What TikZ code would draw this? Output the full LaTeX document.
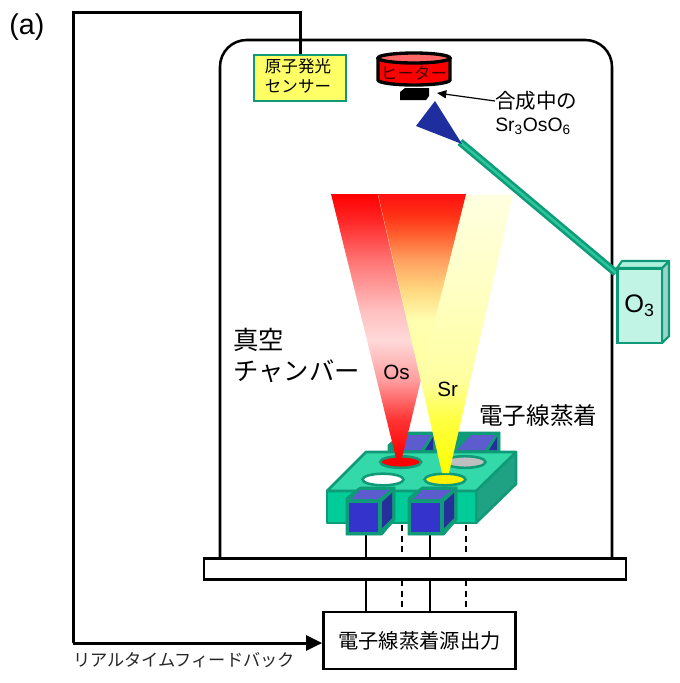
\documentclass[tikz,border=0pt]{standalone}
\usepackage{fontspec}
\setmainfont{Liberation Sans}
\newfontfamily\jp{Noto Sans CJK JP}
\usetikzlibrary{arrows.meta}
\definecolor{gborder}{HTML}{0F9A78}
\definecolor{gtop}{HTML}{33D9A9}
\definecolor{gfront}{HTML}{00CC99}
\definecolor{gside}{HTML}{1FA283}
\definecolor{bfront}{HTML}{3434CC}
\definecolor{btop}{HTML}{5C5CCF}
\definecolor{bside}{HTML}{26309A}
\definecolor{sensorfill}{HTML}{FFFF66}
\definecolor{noza}{HTML}{1E2E9E}
\definecolor{nozb}{HTML}{5F5FDC}
\pgfdeclareverticalshading{redcone}{100bp}{color(0bp)=(red);color(25bp)=(red);color(32.2bp)=(red!80!white);color(39.8bp)=(red!38!white);color(47.3bp)=(red!15!white);color(53bp)=(red!25!white);color(62.5bp)=(red!55!white);color(70bp)=(red!85!white);color(75bp)=(red);color(100bp)=(red)}
\definecolor{yp}{HTML}{FFFFE0}\definecolor{ya}{HTML}{FFFFC0}\definecolor{yb}{HTML}{FFFFA0}\definecolor{yc}{HTML}{FFFF40}\definecolor{yd}{HTML}{FFFF00}
\pgfdeclareverticalshading{yelcone}{100bp}{color(0bp)=(yd);color(25bp)=(yd);color(34.5bp)=(yc);color(41.7bp)=(yb);color(56.1bp)=(ya);color(75bp)=(yp);color(100bp)=(yp)}
\definecolor{oa}{HTML}{FF1010}\definecolor{ob}{HTML}{FF3015}\definecolor{oc}{HTML}{FF6030}\definecolor{od}{HTML}{FFA060}\definecolor{oe}{HTML}{FFD880}\definecolor{of}{HTML}{FFFFB0}
\pgfdeclareverticalshading{ovcone}{100bp}{color(0bp)=(yb);color(25bp)=(yb);color(40.8bp)=(of);color(48.9bp)=(oe);color(57.1bp)=(od);color(63.9bp)=(oc);color(69.3bp)=(ob);color(75bp)=(oa);color(100bp)=(oa)}
\tikzset{
  blk/.style={draw=black,line width=2.25pt},
  thinl/.style={draw=black,line width=1.2pt},
  thind/.style={draw=black,line width=1.2pt,dash pattern=on 4.5pt off 3.5pt},
  lbl/.style={inner sep=0pt,align=left,text=black},
  hole/.style={draw=gborder,line width=1.9pt},
  cubeframe/.style={fill=gborder,draw=gborder,line width=.5pt,line join=round},
}
\newcommand{\cube}{%
  \fill[cubeframe] (346,498)--(360,487)--(395,487)--(395,520)--(382,535)--(346,535)--cycle;
  \fill[btop] (352,499)--(360,490)--(390,490)--(378,499)--cycle;
  \fill[bfront] (349,503) rectangle (378,532);
  \fill[bside] (382,502)--(392,493)--(392,518)--(382,528)--cycle;
}
\begin{document}
\begin{tikzpicture}[x=0.75pt,y=-0.75pt]
\useasboundingbox (0,0) rectangle (680,683);
\fill[white] (0,0) rectangle (680,683);
\node[lbl,anchor=west,font=\fontsize{21.5}{24}\selectfont] (tag) at (9,27) {(a)};
% chamber
\coordinate (cbl) at (220,558);
\coordinate (cbr) at (612,558);
\draw[blk,line width=1.9pt,rounded corners=20pt] (cbl) -- (220,40) -- (612,40) -- (cbr);
% base and source box
\node[blk,line width=1.9pt,fill=white,minimum width=316.5pt,minimum height=16pt,inner sep=0pt] (base) at (415,569) {};
\node[blk,line width=1.9pt,fill=white,minimum width=144pt,minimum height=42.5pt,inner sep=0pt,font=\jp\fontsize{15.2}{18}\selectfont] (src) at (419.5,640.5) {\raisebox{-1.5pt}{電子線蒸着源出力}};
% wires
\foreach \xx/\st/\nm in {366/thinl/a,402/thind/b,430/thinl/c,466/thind/d}{
  \coordinate (t\nm) at (\xx,525);
  \coordinate (m\nm) at (\xx,558);
  \coordinate (n\nm) at (\xx,580);
  \coordinate (s\nm) at (\xx,611);
  \draw[\st] (t\nm) -- (m\nm);
  \draw[\st] (n\nm) -- (s\nm);
}
% sensor
\node[draw=gborder,line width=2.2pt,fill=sensorfill,minimum width=69pt,minimum height=34.5pt,inner sep=0pt,font=\jp\fontsize{12.4}{15.6}\selectfont] (sensor) at (300,78) {\raisebox{.7pt}{\begin{tabular}{@{}c@{}}原子発光\\[-0.4pt]センサー\end{tabular}}\kern3pt};
% feedback
\coordinate (fb1) at (300,12);
\coordinate (fb2) at (73,12);
\coordinate (fb3) at (73,643);
\draw[blk] (sensor.north) -- (fb1) -- (fb2) -- (fb3);
\draw[blk,-{Triangle[length=12pt,width=11pt]}] (fb3) -- (src.west|-fb3);
\node[lbl,anchor=west,font=\jp\fontsize{12.9}{15}\selectfont,text=black!85] (fbl) at (73,660) {リアルタイムフィードバック};
% heater
\fill[black] (400,92)--(405,88)--(429,88)--(429,96)--(426,100)--(400,100)--cycle;
\draw[black,line width=2.5pt,fill=red] (378,58) -- (378,80) arc[start angle=180,end angle=360,x radius=36,y radius=-5] -- (450,58);
\draw[black,line width=2.5pt,fill=red!60!white] (414,58) ellipse [x radius=36,y radius=5];
\node[lbl,font=\jp\fontsize{12.4}{15}\selectfont,text=black!75!red] (heater) at (414,73) {ヒーター};
% label & arrow
\node[lbl,anchor=west,font=\jp\fontsize{15.4}{18}\selectfont] (growing) at (495,101) {合成中の};
\node[lbl,anchor=west,font=\fontsize{14.5}{17}\selectfont] (sro) at (495,126) {Sr\textsubscript{3}OsO\textsubscript{6}};
\coordinate (sub) at (437,93);
\draw[black,line width=.9pt,-{Triangle[length=7pt,width=6pt]}] (growing.west) -- (sub);
% ozone pipe and box
\coordinate (nozzle) at (460,142);
\coordinate (pipeend) at (616,273);
\draw[gborder,line width=5.8pt] (nozzle) -- (pipeend);
\draw[gtop!70!gborder,line width=2pt] (nozzle) -- (pipeend);
\shade[top color=noza,middle color=nozb,bottom color=noza] (435,101)--(416,126)--(462,144)--cycle;
\draw[gborder,line width=1.6pt,fill=gside!45!white,line join=round] (662,268)--(669,261)--(669,336)--(662,343)--cycle;
\draw[gborder,line width=1.6pt,fill=gtop!40!white,line join=round] (617,268)--(622,261)--(669,261)--(662,268)--cycle;
\node[draw=gborder,line width=2pt,fill=gtop!30!white,minimum width=33.5pt,minimum height=56pt,inner sep=0pt,font=\fontsize{19}{22}\selectfont] (ozone) at (639.5,305.5) {O\textsubscript{3}};
% back cubes
\fill[cubeframe] (388,452)--(388,445)--(403,432)--(500,432)--(500,452)--cycle;
\foreach \dx in {0,64}{
  \fill[btop] (393+\dx,450)--(407+\dx,435)--(431+\dx,435)--(421+\dx,450)--cycle;
  \fill[bside] (425+\dx,450)--(433+\dx,437)--(433+\dx,450)--cycle;
}
% crucible
\draw[gborder,line width=1.9pt,line join=round,fill=gside] (476,491)--(516,452)--(516,484)--(476,523)--cycle;
\draw[gborder,line width=1.9pt,line join=round,fill=gfront] (327,491) rectangle (476,523);
\draw[gborder,line width=1.9pt,line join=round,fill=gtop] (327,491)--(366,452)--(516,452)--(476,491)--cycle;
\draw[hole,fill=red] (400.7,462) ellipse [x radius=20.5,y radius=5.8];
\draw[hole,fill=black!25] (465,462) ellipse [x radius=20.5,y radius=5.8];
\draw[hole,fill=white] (383,479.5) ellipse [x radius=20.5,y radius=5.8];
\draw[hole,fill=yellow] (445,479.5) ellipse [x radius=20.5,y radius=5.8];
% front cubes
\cube
\begin{scope}[xshift=46.5pt]\cube\end{scope}
% plumes
\shade[shading=redcone] (331,194)--(466,194)--(402,458)--(396,458)--cycle;
\shade[shading=yelcone] (378,195)--(513,195)--(449,473)--(442,473)--cycle;
\shade[shading=ovcone] (378,194)--(466,194)--(420.5,378)--cycle;
% labels
\node[lbl,anchor=west,font=\fontsize{15.5}{18}\selectfont] (os) at (383,372) {Os};
\node[lbl,anchor=west,font=\fontsize{15.5}{18}\selectfont] (sr) at (437,389) {Sr};
\node[lbl,anchor=west,font=\jp\fontsize{17.7}{21}\selectfont] (ebeam) at (479,415.5) {電子線蒸着};
\node[lbl,anchor=north west,font=\jp\fontsize{19}{23.3}\selectfont] (vac) at (233,328) {真空\\チャンバー};
\end{tikzpicture}
\end{document}
